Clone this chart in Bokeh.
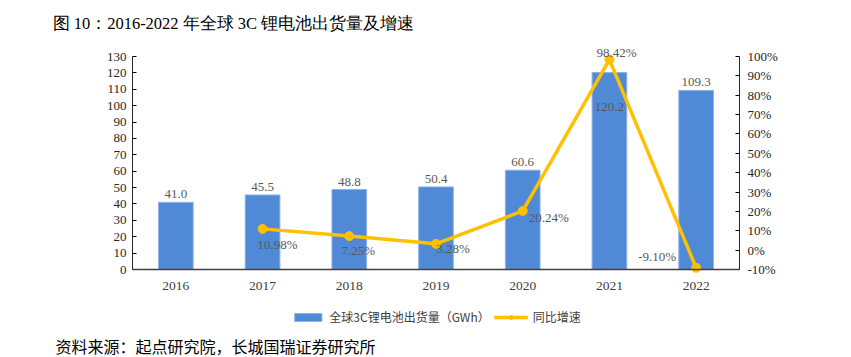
from bokeh.plotting import figure
from bokeh.models import (ColumnDataSource, Range1d, LinearAxis, FixedTicker, PrintfTickFormatter,
                          LabelSet, Legend, LegendItem, FactorRange, Title, Span)
from bokeh.embed import file_html
from bokeh.resources import INLINE

years = ["2016", "2017", "2018", "2019", "2020", "2021", "2022"]
shipments = [41.0, 45.5, 48.8, 50.4, 60.6, 120.2, 109.3]
growth_years = ["2017", "2018", "2019", "2020", "2021", "2022"]
growth = [10.98, 7.25, 3.28, 20.24, 98.42, -9.10]
left_ticks = list(range(0, 131, 10))
right_ticks = list(range(-10, 101, 10))
title_text = "图 10：2016-2022 年全球 3C 锂电池出货量及增速"
source_text = "资料来源：起点研究院，长城国瑞证券研究所"
bar_name = "全球3C锂电池出货量（GWh）"
line_name = "同比增速"

# label offsets (style only)
bar_label_dy = [4, 4, 4, 4, 4, -38, 4]
growth_label_dx = [15, 9, 17, 26, 7, -39]
growth_label_dy = [-16, -14, -5, -7, 7, 11]

BLUE = "#5089D6"
YELLOW = "#FFC000"
SERIF = "Liberation Serif"
SANS = "Noto Sans CJK SC"

# vertical geometry (pixels): frame top 40, value 130 at 56, value 0 at 269, frame bottom 331
FRAME_TOP, AX_TOP, AX_ZERO, FRAME_BOTTOM, H = 40, 56, 269, 331, 357
L_TOP = 130.0
ppu = (AX_ZERO - AX_TOP) / L_TOP
l_max = L_TOP + (AX_TOP - FRAME_TOP) / ppu
l_min = -(FRAME_BOTTOM - AX_ZERO) / ppu
R_MIN, R_TOP = -10.0, 100.0
rscale = (R_TOP - R_MIN) / L_TOP
r_lo = R_MIN + l_min * rscale
r_hi = R_MIN + l_max * rscale

p = figure(width=851, height=H, x_range=FactorRange(*years, range_padding=0),
           y_range=Range1d(l_min, l_max), output_backend="svg", toolbar_location=None,
           min_border_left=132, min_border_right=112, min_border_top=FRAME_TOP,
           min_border_bottom=H - FRAME_BOTTOM)
p.outline_line_color = None
p.xgrid.grid_line_color = None
p.ygrid.grid_line_color = None
p.background_fill_color = None
p.border_fill_color = "white"
p.xaxis.visible = False

p.extra_y_ranges = {"pct": Range1d(r_lo, r_hi)}

bars = ColumnDataSource(dict(x=years, y=shipments, lab=[f"{v:.1f}" for v in shipments], dy=bar_label_dy,
                             base=[0] * len(years)))
lines = ColumnDataSource(dict(x=growth_years, y=growth, lab=[f"{v:.2f}%" for v in growth],
                              dx=growth_label_dx, dy=growth_label_dy))

vb = p.vbar(x="x", top="y", bottom="base", width=0.4, source=bars, fill_color=BLUE,
            line_color="#8DB3E8", line_width=1)
ln = p.line(x="x", y="y", source=lines, y_range_name="pct", line_color=YELLOW, line_width=3.5)
sc = p.scatter(x="x", y="y", source=lines, y_range_name="pct", size=9, fill_color=YELLOW, line_color=YELLOW)

# category baseline (x axis line)
p.add_layout(Span(location=0, dimension="width", line_color="#404040", line_width=1.5))

# year labels under the baseline
p.add_layout(LabelSet(x="x", y="base", text="x", source=bars, y_offset=-16, text_align="center",
                      text_baseline="middle", text_font=SERIF, text_font_size="13.5px", text_color="#404040"))

p.add_layout(LabelSet(x="x", y="y", text="lab", source=bars, y_offset="dy", text_align="center",
                      text_baseline="bottom", text_font=SERIF, text_font_size="13px", text_color="#595959"))
p.add_layout(LabelSet(x="x", y="y", text="lab", source=lines, y_range_name="pct", x_offset="dx", y_offset="dy",
                      text_align="center", text_baseline="middle", text_font=SERIF, text_font_size="13px",
                      text_color="#595959"))

ya = p.yaxis[0]
ya.ticker = FixedTicker(ticks=left_ticks)
ya.bounds = (0, L_TOP)
ya.axis_line_color = "#262626"
ya.major_tick_in = 4
ya.major_tick_out = 0
ya.minor_tick_line_color = None
ya.major_label_standoff = 6
ya.major_label_text_font = SERIF
ya.major_label_text_font_size = "13px"
ya.major_label_text_color = "#262626"

ra = LinearAxis(y_range_name="pct", ticker=FixedTicker(ticks=right_ticks),
                formatter=PrintfTickFormatter(format="%d%%"), bounds=(R_MIN, R_TOP))
ra.axis_line_color = "#262626"
ra.major_tick_in = 4
ra.major_tick_out = 0
ra.minor_tick_line_color = None
ra.major_label_standoff = 8
ra.major_label_text_font = SERIF
ra.major_label_text_font_size = "13px"
ra.major_label_text_color = "#262626"
p.add_layout(ra, "right")

# title above
p.add_layout(Title(text=title_text, align="left", offset=-80, standoff=16, text_font=SERIF,
                   text_font_size="16.5px", text_font_style="normal", text_color="#000000"), "above")

# legend inside the (extended) frame, under the year labels
legend = Legend(items=[LegendItem(label=bar_name, renderers=[vb]),
                       LegendItem(label=line_name, renderers=[ln, sc])],
                location="bottom_center", orientation="horizontal", glyph_width=34, glyph_height=10,
                label_standoff=5, spacing=4, padding=0, margin=6, border_line_color=None,
                background_fill_alpha=0, label_text_font=SANS, label_text_font_size="12px",
                label_text_color="#404040")
p.add_layout(legend, "center")

# source note
p.add_layout(Title(text=source_text, align="left", offset=-77, standoff=0, text_font=SANS,
                   text_font_size="16px", text_font_style="normal", text_color="#000000"), "below")

open("out.html", "w").write(file_html(p, INLINE))
